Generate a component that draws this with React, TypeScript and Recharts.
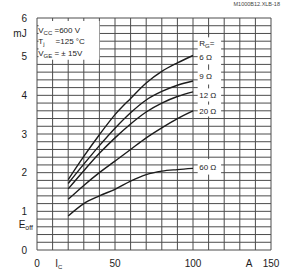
import React from 'react';
import { LineChart, Line, XAxis, YAxis, CartesianGrid, ReferenceArea, ReferenceDot, ReferenceLine } from 'recharts';

// collector current (A)
const currents = [20, 30, 40, 50, 60, 70, 80, 90, 100];
// turn-off energy (mJ) for each gate resistor
const eoff6 = [1.82, 2.42, 2.98, 3.5, 3.92, 4.32, 4.62, 4.84, 5.03];
const eoff9 = [1.72, 2.22, 2.7, 3.15, 3.55, 3.88, 4.1, 4.26, 4.37];
const eoff12 = [1.58, 2.05, 2.5, 2.9, 3.26, 3.57, 3.8, 3.97, 4.09];
const eoff20 = [1.31, 1.67, 2.0, 2.3, 2.6, 2.9, 3.16, 3.4, 3.6];
const eoff60 = [0.88, 1.2, 1.4, 1.57, 1.78, 1.95, 2.04, 2.08, 2.11];

const seriesKeys = ['r6', 'r9', 'r12', 'r20', 'r60'];
const seriesLabels = ['6 Ω', '9 Ω', '12 Ω', '20 Ω', '60 Ω'];
const labelY = [4.99, 4.5, 4.01, 3.59, 2.15];
const labelX = 104;

const xTicks = [0, 14, 50, 100, 136, 150];
const yTicks = [0, 0.65, 1, 2, 3, 4, 5, 5.6, 6];
const gridX = [0, 10, 20, 30, 40, 50, 60, 70, 80, 90, 100, 110, 120, 130, 140, 150];
const gridY = [0, 0.2, 0.4, 0.6, 0.8, 1, 1.2, 1.4, 1.6, 1.8, 2, 2.2, 2.4, 2.6, 2.8, 3,
  3.2, 3.4, 3.6, 3.8, 4, 4.2, 4.4, 4.6, 4.8, 5, 5.2, 5.4, 5.6, 5.8, 6];

// little bits of the 110 A grid line left between the labels
const gapMarks = [[5.62, 5.5], [4.8, 4.66], [4.28, 4.18], [3.84, 3.76]];

const data = currents.map((c, i) => ({
  ic: c,
  r6: eoff6[i],
  r9: eoff9[i],
  r12: eoff12[i],
  r20: eoff20[i],
  r60: eoff60[i],
}));

const ink = '#1c1c1c';
const gridInk = '#4c4c4c';

const XTick = (props: any) => {
  const { x, y, payload } = props;
  const v = payload.value;
  if (v === 14) {
    return (
      <text x={x} y={y} dy="0.71em" textAnchor="middle" fontSize={10} fill={ink}>
        I<tspan fontSize={6} dy={2}>C</tspan>
      </text>
    );
  }
  return (
    <text x={x} y={y} dy="0.71em" textAnchor="middle" fontSize={10} fill={ink}>
      {v === 136 ? 'A' : v}
    </text>
  );
};

const YTick = (props: any) => {
  const { x, y, payload } = props;
  const v = payload.value;
  if (v === 5.6) {
    return (
      <text x={x - 7} y={y} dy="0.355em" textAnchor="middle" fontSize={10} fill={ink}>mJ</text>
    );
  }
  if (v === 0.65) {
    return (
      <text x={x + 6} y={y} dy="0.355em" textAnchor="end" fontSize={10} fill={ink}>
        E<tspan fontSize={7} dy={2}>off</tspan>
      </text>
    );
  }
  return (
    <text x={x} y={y} dy="0.355em" textAnchor="end" fontSize={10} fill={ink}>{v}</text>
  );
};

const Tag = (props: any) => {
  const { viewBox, children } = props;
  return (
    <text x={viewBox.x} y={viewBox.y} dy="0.35em" fontSize={8} fill={ink} style={{ whiteSpace: 'pre' }}>{children}</text>
  );
};

const App: React.FC = () => {
  return (
    <div style={{ position: 'absolute', left: 0, top: 0, width: 284, height: 273, background: '#fff', fontFamily: '"Liberation Sans", Arial, sans-serif' }}>
      <div style={{ position: 'absolute', right: 4, top: 1, fontSize: 5.5, color: '#444' }}>M1000B12.XLB-18</div>
      <LineChart width={284} height={273} data={data} margin={{ top: 18, right: 13, left: 0, bottom: 0 }}>
        <CartesianGrid stroke={gridInk} strokeWidth={1} horizontalValues={gridY} verticalValues={gridX} />
        <XAxis
          dataKey="ic"
          type="number"
          domain={[0, 150]}
          ticks={xTicks}
          interval={0}
          height={23}
          axisLine={false}
          tickLine={false}
          tickSize={0}
          tickMargin={10}
          tick={<XTick />}
        />
        <YAxis
          type="number"
          domain={[0, 6]}
          ticks={yTicks}
          interval={0}
          width={37}
          axisLine={false}
          tickLine={false}
          tickSize={0}
          tickMargin={10}
          tick={<YTick />}
        />

        {/* white patches behind the annotations */}
        <ReferenceArea x1={1} x2={40} y1={4.92} y2={5.92} fill="#fff" fillOpacity={1} stroke="none" />
        <ReferenceArea x1={103} x2={118} y1={3.45} y2={5.55} fill="#fff" fillOpacity={1} stroke="none" />
        <ReferenceArea x1={103} x2={118} y1={1.95} y2={2.35} fill="#fff" fillOpacity={1} stroke="none" />
        {gapMarks.map((m, i) => (
          <ReferenceLine key={'g' + i} segment={[{ x: 110, y: m[0] }, { x: 110, y: m[1] }]} stroke={gridInk} />
        ))}

        {seriesKeys.map((k) => (
          <Line
            key={k}
            dataKey={k}
            type="monotone"
            stroke={ink}
            strokeWidth={1.4}
            dot={false}
            isAnimationActive={false}
          />
        ))}

        {/* test conditions */}
        <ReferenceDot x={0.8} y={5.69} r={0} stroke="none" fill="none"
          label={<Tag>V<tspan fontSize={6} dy={2}>CC</tspan><tspan dy={-2}> =600 V</tspan></Tag>} />
        <ReferenceDot x={0.8} y={5.39} r={0} stroke="none" fill="none"
          label={<Tag>T<tspan fontSize={6} dy={2}>j</tspan><tspan dy={-2}>     =125 °C</tspan></Tag>} />
        <ReferenceDot x={0.8} y={5.1} r={0} stroke="none" fill="none"
          label={<Tag>V<tspan fontSize={6} dy={2}>GE</tspan><tspan dy={-2}> = ± 15V</tspan></Tag>} />

        {/* gate resistor labels */}
        <ReferenceDot x={labelX} y={5.35} r={0} stroke="none" fill="none"
          label={<Tag>R<tspan fontSize={6} dy={2}>G</tspan><tspan dy={-2}>=</tspan></Tag>} />
        {seriesLabels.map((t, i) => (
          <ReferenceDot key={t} x={labelX} y={labelY[i]} r={0} stroke="none" fill="none" label={<Tag>{t}</Tag>} />
        ))}
      </LineChart>
    </div>
  );
};

export default App;
